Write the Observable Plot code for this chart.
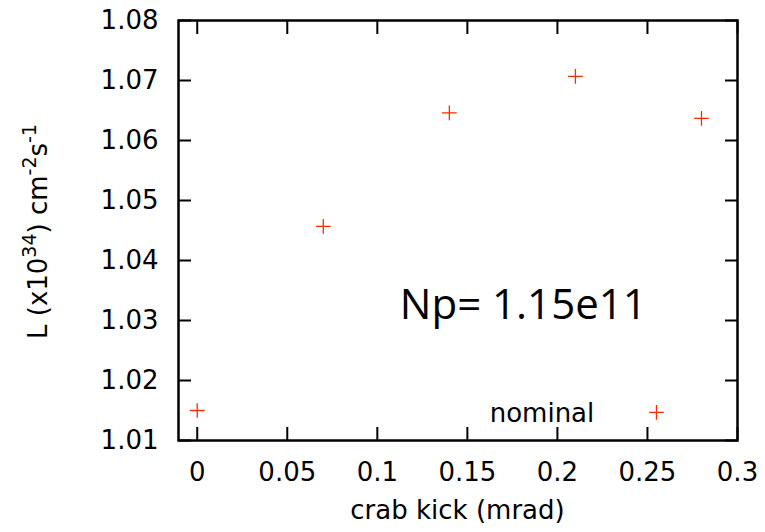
<!DOCTYPE html>
<html>
<head>
<meta charset="utf-8">
<script src="https://cdn.jsdelivr.net/npm/d3@7"></script>
<script src="https://cdn.jsdelivr.net/npm/@observablehq/plot@0.6"></script>
<style>
  html, body { margin: 0; padding: 0; background: white; }
</style>
</head>
<body>
<div id="chart"></div>
<script>
// Data
const kick = [0, 0.07, 0.14, 0.21, 0.28];
const lumi = [1.015, 1.0457, 1.0646, 1.0707, 1.0637];
const nominalKick = [0.255];
const nominalLumi = [1.0147];
const xTicks = [0, 0.05, 0.1, 0.15, 0.2, 0.25, 0.3];
const yTicks = [1.01, 1.02, 1.03, 1.04, 1.05, 1.06, 1.07, 1.08];
const npText = ["Np= 1.15e11"];
const npPos = {x: [0.1125], y: [1.0302]};
const nominalText = ["nominal"];
const nominalTextPos = {x: [0.1624], y: [1.01305]};
const xTitle = "crab kick (mrad)";

const red = "#ff2a00";
const fmtY = d3.format(".2f");

const chart = Plot.plot({
  width: 765,
  height: 532,
  marginLeft: 178,
  marginRight: 28,
  marginTop: 20,
  marginBottom: 92,
  x: {domain: [-0.0104, 0.3]},
  y: {domain: [1.01, 1.08]},
  style: {fontFamily: "DejaVu Sans", fontSize: "26px", color: "black", background: "white"},
  marks: [
    // tick labels
    Plot.axisX(xTicks, {anchor: "bottom", tickSize: 0, tickPadding: 22, tickFormat: d => String(d), label: null, fontSize: 26}),
    Plot.axisY(yTicks, {anchor: "left", tickSize: 0, tickPadding: 20, tickFormat: fmtY, label: null, fontSize: 26}),
    // inward ticks on all four sides
    Plot.axisX(xTicks, {anchor: "bottom", tickSize: 13, dy: -13, tickFormat: () => "", label: null, strokeWidth: 2}),
    Plot.axisX(xTicks, {anchor: "top", tickSize: 13, dy: 13, tickFormat: () => "", label: null, strokeWidth: 2}),
    Plot.axisY(yTicks, {anchor: "left", tickSize: 13, dx: 13, tickFormat: () => "", label: null, strokeWidth: 2}),
    Plot.axisY(yTicks, {anchor: "right", tickSize: 13, dx: -13, tickFormat: () => "", label: null, strokeWidth: 2}),
    Plot.frame({stroke: "black", strokeWidth: 2.5}),
    // data
    Plot.dot(kick, {x: kick, y: lumi, symbol: "plus", r: 4.8, stroke: red, strokeWidth: 1.3}),
    Plot.dot(nominalKick, {x: nominalKick, y: nominalLumi, symbol: "plus", r: 4.8, stroke: red, strokeWidth: 1.3}),
    // annotations
    Plot.text(npText, {x: npPos.x, y: npPos.y, text: d => d, textAnchor: "start", lineAnchor: "bottom",
      fontFamily: "Open Sans", fontSize: 42, fill: "black"}),
    Plot.text(nominalText, {x: nominalTextPos.x, y: nominalTextPos.y, text: d => d, textAnchor: "start", lineAnchor: "bottom",
      fontFamily: "DejaVu Sans", fontSize: 26, fill: "black"})
  ]
});

const svg = d3.select(chart);
// x axis title
svg.append("text")
  .attr("x", 457.5)
  .attr("y", 519)
  .attr("text-anchor", "middle")
  .attr("font-family", "DejaVu Sans")
  .attr("font-size", 26)
  .attr("fill", "black")
  .text(xTitle);

// y axis title with superscripts
const yt = svg.append("text")
  .attr("transform", "translate(47,231.5) rotate(-90)")
  .attr("text-anchor", "middle")
  .attr("font-family", "DejaVu Sans")
  .attr("font-size", 26)
  .attr("fill", "black");
const parts = [
  ["L (x10", false], ["34", true], [") cm", false], ["-2", true], ["s", false], ["-1", true]
];
let up = false;
for (const [t, sup] of parts) {
  const ts = yt.append("tspan").text(t);
  if (sup && !up) { ts.attr("dy", -11).attr("font-size", 19); up = true; }
  else if (sup && up) { ts.attr("font-size", 19); }
  else if (!sup && up) { ts.attr("dy", 11); up = false; }
}

document.getElementById("chart").appendChild(chart);
</script>
</body>
</html>
